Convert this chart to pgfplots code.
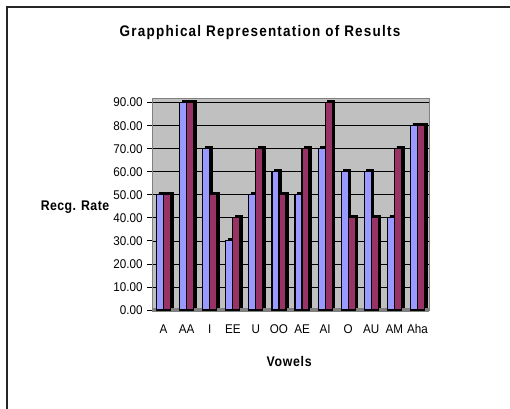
\documentclass[border=0pt]{standalone}
\usepackage{pgfplots}
\pgfplotsset{compat=1.18}
\usepackage{fontspec}
\setmainfont[FakeStretch=0.92]{Liberation Sans}
\newfontfamily\titlefont[FakeStretch=0.88]{Liberation Sans}
\definecolor{barblue}{HTML}{9999FF}
\definecolor{barred}{HTML}{993366}
\definecolor{wall}{HTML}{C0C0C0}
\definecolor{floorc}{HTML}{808080}
\begin{document}
\begin{tikzpicture}
\path[use as bounding box] (0,0) rectangle (382.5pt,306.75pt);
\draw[line width=1.5pt, black!85] (5.25pt,0) -- (5.25pt,301.5pt) -- (382.5pt,301.5pt);
\begin{axis}[
  at={(114pt,74.25pt)}, anchor=south west,
  scale only axis, width=207.75pt, height=159pt,
  xmin=-0.5, xmax=11.5, ymin=0, ymax=92,
  axis background/.style={fill=wall},
  axis line style={draw=gray},
  ytick={0,10,...,90},
  yticklabel style={/pgf/number format/fixed, /pgf/number format/fixed zerofill, /pgf/number format/precision=2, /pgf/number format/assume math mode=true, font=\fontsize{9.5}{10}\selectfont},
  ymajorgrids, grid style={black, line width=0.5pt},
  ytick style={black, line width=0.6pt},
  tick align=outside, ytick pos=left,
  major tick length=3.5pt,
  xtick={0,...,11},
  xticklabels={A,AA,I,EE,U,OO,AE,AI,O,AU,AM,Aha},
  xticklabel style={font=\fontsize{9.5}{10}\selectfont, yshift=-4pt},
  xtick pos=bottom,
  major x tick style={draw=none},
  extra x ticks={-0.5,0.5,...,11.5},
  extra x tick labels={},
  extra x tick style={tick style={black, line width=0.6pt, draw=black}, major tick length=5pt, xmajorgrids=false},
  every axis title shift=0pt,
  title={\titlefont\bfseries\addfontfeature{LetterSpace=8}Grapphical Representation of Results},
  title style={at={(axis description cs:0.39,1.307)}, anchor=center, font=\fontsize{11.5}{13}\selectfont},
  xlabel={\titlefont\bfseries\addfontfeature{LetterSpace=5}Vowels},
  xlabel style={at={(axis description cs:0.495,-0.245)}, anchor=center, font=\fontsize{10.5}{12}\selectfont},
  ylabel={\titlefont\bfseries\addfontfeature{LetterSpace=3}Recg. Rate},
  ylabel style={at={(axis description cs:-0.278,0.486)}, anchor=center, rotate=-90, font=\fontsize{10.5}{12}\selectfont},
  clip=false,
]
\addplot[draw=floorc, line width=3pt] coordinates {(-0.5,0) (11.5,0)};
% blue series
\addplot[ybar, bar width=5.25pt, bar shift=-2.625pt, fill=black, draw=black, xshift=1.8pt, yshift=1.8pt] coordinates {
(0,50) (1,90) (2,70) (3,30) (4,50) (5,60) (6,50) (7,70) (8,60) (9,60) (10,40) (11,80)};
\addplot[ybar, bar width=5.25pt, bar shift=-2.625pt, fill=barblue, draw=black, line width=0.9pt] coordinates {
(0,50) (1,90) (2,70) (3,30) (4,50) (5,60) (6,50) (7,70) (8,60) (9,60) (10,40) (11,80)};
% red series
\addplot[ybar, bar width=5.25pt, bar shift=2.625pt, fill=black, draw=black, xshift=1.8pt, yshift=1.8pt] coordinates {
(0,50) (1,90) (2,50) (3,40) (4,70) (5,50) (6,70) (7,90) (8,40) (9,40) (10,70) (11,80)};
\addplot[ybar, bar width=5.25pt, bar shift=2.625pt, fill=barred, draw=black, line width=0.9pt] coordinates {
(0,50) (1,90) (2,50) (3,40) (4,70) (5,50) (6,70) (7,90) (8,40) (9,40) (10,70) (11,80)};
\end{axis}
\end{tikzpicture}
\end{document}
